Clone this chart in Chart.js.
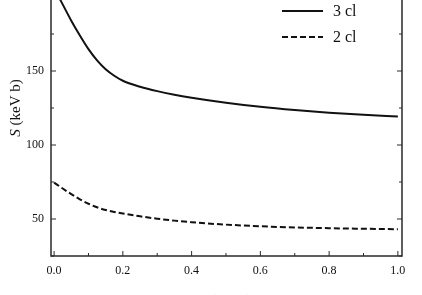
<!DOCTYPE html>
<html>
<head>
<meta charset="utf-8">
<script src="https://cdn.jsdelivr.net/npm/chart.js@4/dist/chart.umd.min.js"></script>
<style>
    html, body { margin: 0; padding: 0; background: #fff; overflow: hidden; }
    body { width: 422px; height: 295px; position: relative; }
    #wrap { position: absolute; left: 0; top: -60px; width: 422px; height: 400px; }
</style>
</head>
<body>
<div id="wrap"><canvas id="chart-s"></canvas></div>
<script>
var energies = [0.0, 0.025, 0.05, 0.075, 0.1, 0.125, 0.15, 0.175, 0.2, 0.25, 0.3, 0.35, 0.4, 0.5, 0.6, 0.7, 0.8, 0.9, 1.0];

// S factor (keV b) for each curve
var s3cl = [206, 195, 184, 174, 164.8, 157.2, 151.2, 146.8, 143.4, 139.4, 136.4, 134.0, 132.0, 128.6, 125.8, 123.6, 121.8, 120.4, 119.2];
var s2cl = [74.6, 70.6, 66.8, 63.3, 60.3, 57.9, 56.1, 54.8, 53.7, 51.8, 50.2, 48.9, 47.8, 46.2, 45.1, 44.3, 43.8, 43.4, 43.1];

var seriesLabels = ["3 cl", "2 cl"];

// Tick values
var xTicks = [0.0, 0.2, 0.4, 0.6, 0.8, 1.0];
var xMinorTicks = [0.1, 0.3, 0.5, 0.7, 0.9];
var yTicks = [50, 100, 150, 200];
var yMinorTicks = [25, 75, 125, 175, 225];

var serif = "'Liberation Serif', 'Times New Roman', serif";

// Build {x, y} points from the arrays
function toPoints(values) {
    var pts = [];
    for (var i = 0; i < energies.length; i++) {
        pts.push({ x: energies[i], y: values[i] });
    }
    return pts;
}

function fixedTicks(values) {
    return function (scale) {
        scale.ticks = values.map(function (v) { return { value: v }; });
    };
}

// Frame, inward ticks, axis titles and legend
var framePlugin = {
    id: "frame",
    afterDraw: function (chart) {
        var ctx = chart.ctx;
        var a = chart.chartArea;
        var xs = chart.scales.x;
        var ys = chart.scales.y;

        ctx.save();
        ctx.strokeStyle = "#2a2a2a";
        ctx.lineWidth = 1.5;
        ctx.strokeRect(a.left, a.top, a.right - a.left, a.bottom - a.top);

        function xTick(v, len) {
            var px = xs.getPixelForValue(v);
            ctx.beginPath();
            ctx.moveTo(px, a.bottom); ctx.lineTo(px, a.bottom - len);
            ctx.moveTo(px, a.top); ctx.lineTo(px, a.top + len);
            ctx.stroke();
        }
        function yTick(v, len) {
            var py = ys.getPixelForValue(v);
            ctx.beginPath();
            ctx.moveTo(a.left, py); ctx.lineTo(a.left + len, py);
            ctx.moveTo(a.right, py); ctx.lineTo(a.right - len, py);
            ctx.stroke();
        }
        ctx.lineWidth = 1;
        xTicks.forEach(function (v) { xTick(v, 5); });
        xMinorTicks.forEach(function (v) { xTick(v, 3); });
        yTicks.forEach(function (v) { yTick(v, 5); });
        yMinorTicks.forEach(function (v) { yTick(v, 3); });

        // Axis titles with italic symbol
        function mixedTitle(sym, rest, cx, cy, rot) {
            ctx.save();
            ctx.translate(cx, cy);
            ctx.rotate(rot);
            ctx.fillStyle = "#111";
            ctx.textBaseline = "middle";
            ctx.textAlign = "left";
            ctx.font = "italic 15px " + serif;
            var w1 = ctx.measureText(sym).width;
            ctx.font = "15px " + serif;
            var w2 = ctx.measureText(rest).width;
            var x0 = -(w1 + w2) / 2;
            ctx.font = "italic 15px " + serif;
            ctx.fillText(sym, x0, 0);
            ctx.font = "15px " + serif;
            ctx.fillText(rest, x0 + w1, 0);
            ctx.restore();
        }
        mixedTitle("S", " (keV b)", 16, (a.top + a.bottom) / 2, -Math.PI / 2);
        mixedTitle("E", " (MeV)", (a.left + a.right) / 2 - 2, a.bottom + 45, 0);

        // Legend inside the top right corner
        chart.data.datasets.forEach(function (ds, i) {
            var ly = a.top + 51 + i * 26;
            ctx.save();
            ctx.strokeStyle = ds.borderColor;
            ctx.lineWidth = ds.borderWidth;
            ctx.setLineDash(ds.borderDash || []);
            ctx.beginPath();
            ctx.moveTo(a.right - 120, ly);
            ctx.lineTo(a.right - 79, ly);
            ctx.stroke();
            ctx.setLineDash([]);
            ctx.fillStyle = "#111";
            ctx.font = "16px " + serif;
            ctx.textBaseline = "middle";
            ctx.textAlign = "left";
            ctx.fillText(ds.label, a.right - 69, ly + 1);
            ctx.restore();
        });
        ctx.restore();
    }
};

var element = document.getElementById("chart-s");

new Chart(element, {
    type: "line",
    data: {
        datasets: [
            {
                label: seriesLabels[0],
                data: toPoints(s3cl),
                borderColor: "#111",
                borderWidth: 2,
                pointRadius: 0,
                fill: false,
                cubicInterpolationMode: "monotone"
            },
            {
                label: seriesLabels[1],
                data: toPoints(s2cl),
                borderColor: "#111",
                borderWidth: 2,
                borderDash: [6, 3],
                pointRadius: 0,
                fill: false,
                cubicInterpolationMode: "monotone"
            }
        ]
    },
    options: {
        responsive: true,
        maintainAspectRatio: false,
        devicePixelRatio: 1,
        animation: false,
        layout: {
            padding: { top: 20, right: 20, left: 0, bottom: 0 }
        },
        plugins: {
            legend: { display: false },
            tooltip: { enabled: false }
        },
        scales: {
            x: {
                type: "linear",
                min: -0.009,
                max: 1.012,
                afterBuildTicks: fixedTicks(xTicks),
                afterFit: function (scale) { scale.height = 84; },
                grid: { display: false, drawTicks: false },
                border: { display: false },
                ticks: {
                    padding: 8,
                    maxRotation: 0,
                    autoSkip: false,
                    color: "#111",
                    font: { family: serif, size: 12 },
                    callback: function (v) { return Number(v).toFixed(1); }
                }
            },
            y: {
                type: "linear",
                min: 25,
                max: 225,
                afterBuildTicks: fixedTicks(yTicks),
                afterFit: function (scale) { scale.width = 51; },
                grid: { display: false, drawTicks: false },
                border: { display: false },
                ticks: {
                    padding: 7,
                    autoSkip: false,
                    color: "#111",
                    font: { family: serif, size: 12 }
                }
            }
        }
    },
    plugins: [framePlugin]
});
</script>
</body>
</html>
